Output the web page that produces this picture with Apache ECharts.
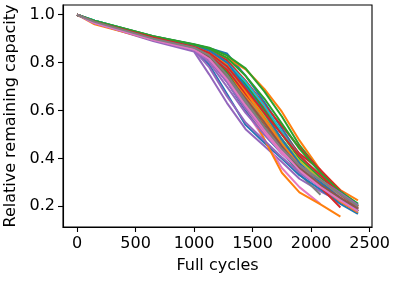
<!DOCTYPE html>
<html>
<head>
<meta charset="utf-8">
<script src="https://cdn.jsdelivr.net/npm/echarts@6/dist/echarts.min.js"></script>
<style>
html,body{margin:0;padding:0;background:#fff;}
#chart{width:397px;height:281px;}
</style>
</head>
<body>
<div id="chart"></div>
<script>
// Full-cycle sample points shared by every cell
const cycles = [0, 150, 650, 1000, 1130, 1280, 1440, 1600, 1750, 1900, 2080, 2250, 2400];
// Tick labels
const xTicks = [0, 500, 1000, 1500, 2000, 2500];
const yTicks = [0.2, 0.4, 0.6, 0.8, 1.0];
// Relative remaining capacity per cell (null = no more data)
const cell01 = [1, 0.975, 0.91, 0.876, 0.86, 0.838, 0.745, 0.635, 0.525, 0.415, 0.31, 0.24, 0.19];
const cell02 = [1, 0.97, 0.905, 0.87, 0.855, 0.82, 0.772, 0.69, 0.595, 0.475, 0.35, 0.268, 0.225];
const cell03 = [1, 0.975, 0.91, 0.877, 0.862, 0.83, 0.776, 0.68, 0.575, 0.455, 0.345, 0.26, 0.205];
const cell04 = [1, 0.97, 0.905, 0.868, 0.845, 0.8, 0.71, 0.61, 0.51, 0.42, 0.352, 0.265, 0.2];
const cell05 = [1, 0.965, 0.89, 0.846, 0.75, 0.632, 0.522, 0.452, 0.385, 0.315, 0.262, 0.22, 0.18];
const cell06 = [1, 0.97, 0.9, 0.86, 0.82, 0.73, 0.615, 0.515, 0.43, 0.35, 0.285, 0.23, 0.185];
const cell07 = [1, 0.965, 0.895, 0.855, 0.81, 0.72, 0.6, 0.48, 0.36, 0.28, 0.21, null, null];
const cell08 = [1, 0.97, 0.9, 0.862, 0.83, 0.76, 0.655, 0.545, 0.435, 0.335, 0.248, null, null];
const cell09 = [1, 0.97, 0.905, 0.865, 0.835, 0.77, 0.67, 0.57, 0.47, 0.37, 0.29, 0.23, 0.19];
const cell10 = [1, 0.975, 0.905, 0.87, 0.845, 0.79, 0.7, 0.59, 0.475, 0.37, 0.3, 0.24, 0.2];
const cell11 = [1, 0.97, 0.9, 0.856, 0.79, 0.67, 0.54, 0.465, 0.4, 0.33, 0.27, 0.21, 0.168];
const cell12 = [1, 0.96, 0.895, 0.86, 0.82, 0.74, 0.63, 0.48, 0.34, 0.258, 0.208, 0.157, null];
const cell13 = [1, 0.97, 0.905, 0.87, 0.85, 0.8, 0.71, 0.6, 0.5, 0.4, 0.32, 0.245, 0.2];
const cell14 = [1, 0.97, 0.905, 0.868, 0.85, 0.81, 0.725, 0.625, 0.535, 0.445, 0.35, 0.255, 0.18];
const cell15 = [1, 0.965, 0.895, 0.852, 0.78, 0.66, 0.55, 0.475, 0.405, 0.34, 0.28, 0.23, 0.19];
const cell16 = [1, 0.97, 0.9, 0.86, 0.83, 0.75, 0.64, 0.54, 0.45, 0.36, 0.28, 0.22, 0.18];
const cell17 = [1, 0.965, 0.9, 0.86, 0.82, 0.74, 0.63, 0.53, 0.44, 0.37, 0.3, 0.24, 0.19];
const cell18 = [1, 0.97, 0.905, 0.865, 0.84, 0.78, 0.68, 0.57, 0.46, 0.36, 0.28, 0.22, 0.18];
const cell19 = [1, 0.97, 0.9, 0.86, 0.83, 0.76, 0.65, 0.55, 0.46, 0.37, 0.3, 0.24, 0.19];
const cell20 = [1, 0.97, 0.905, 0.865, 0.84, 0.78, 0.67, 0.56, 0.45, 0.36, 0.29, 0.23, 0.19];
const cell21 = [1, 0.97, 0.9, 0.86, 0.82, 0.72, 0.6, 0.5, 0.42, 0.35, 0.29, 0.23, 0.172];
const cell22 = [1, 0.965, 0.9, 0.862, 0.83, 0.77, 0.66, 0.55, 0.45, 0.36, 0.29, 0.22, 0.175];
const cell23 = [1, 0.97, 0.905, 0.865, 0.83, 0.76, 0.64, 0.53, 0.43, 0.35, 0.29, 0.23, 0.19];
const cell24 = [1, 0.97, 0.9, 0.86, 0.83, 0.77, 0.67, 0.58, 0.48, 0.38, 0.28, 0.195, null];
const cell25 = [1, 0.965, 0.9, 0.855, 0.8, 0.7, 0.59, 0.5, 0.425, 0.36, 0.3, 0.25, 0.2];
const cell26 = [1, 0.97, 0.9, 0.86, 0.82, 0.73, 0.61, 0.51, 0.43, 0.36, 0.3, 0.24, 0.19];
const cell27 = [1, 0.965, 0.895, 0.855, 0.81, 0.72, 0.61, 0.51, 0.42, 0.36, 0.3, 0.24, 0.185];
const cell28 = [1, 0.97, 0.9, 0.86, 0.82, 0.74, 0.63, 0.53, 0.44, 0.36, 0.3, 0.25, 0.2];
const cell29 = [1, 0.97, 0.905, 0.865, 0.84, 0.79, 0.69, 0.58, 0.48, 0.39, 0.31, 0.25, 0.2];
const cell30 = [1, 0.975, 0.905, 0.87, 0.85, 0.8, 0.72, 0.62, 0.51, 0.41, 0.33, 0.26, 0.21];
const cell31 = [1, 0.97, 0.905, 0.87, 0.85, 0.8, 0.7, 0.59, 0.48, 0.38, 0.3, 0.235, 0.18];
const cell32 = [1, 0.97, 0.9, 0.865, 0.84, 0.79, 0.68, 0.565, 0.46, 0.37, 0.31, 0.25, 0.2];
const cell33 = [1, 0.975, 0.91, 0.875, 0.858, 0.82, 0.745, 0.65, 0.545, 0.44, 0.34, 0.26, 0.21];
const cell34 = [1, 0.97, 0.905, 0.865, 0.84, 0.785, 0.69, 0.59, 0.5, 0.41, 0.33, 0.25, 0.195];
const cell35 = [1, 0.965, 0.895, 0.855, 0.81, 0.72, 0.61, 0.52, 0.445, 0.37, 0.31, 0.255, 0.205];
const cell36 = [1, 0.97, 0.9, 0.86, 0.825, 0.75, 0.65, 0.55, 0.45, 0.36, 0.29, 0.235, 0.19];
const cell37 = [1, 0.965, 0.895, 0.855, 0.815, 0.73, 0.62, 0.52, 0.43, 0.35, 0.28, 0.225, 0.18];
const cell38 = [1, 0.97, 0.9, 0.862, 0.83, 0.75, 0.64, 0.53, 0.44, 0.37, 0.31, 0.25, 0.2];

const cells = [cell01, cell02, cell03, cell04, cell05, cell06, cell07, cell08, cell09, cell10,
  cell11, cell12, cell13, cell14, cell15, cell16, cell17, cell18, cell19, cell20,
  cell21, cell22, cell23, cell24, cell25, cell26, cell27, cell28, cell29, cell30,
  cell31, cell32, cell33, cell34, cell35, cell36, cell37, cell38];

const palette = ['#1f77b4', '#ff7f0e', '#2ca02c', '#d62728', '#9467bd',
  '#8c564b', '#e377c2', '#7f7f7f', '#bcbd22', '#17becf'];

const FONT = 'DejaVu Sans';
const FS = 16;

const series = cells.map(function (vals, i) {
  const data = [];
  vals.forEach(function (v, j) { if (v !== null) data.push([cycles[j], v]); });
  return {
    type: 'line',
    data: data,
    showSymbol: false,
    symbol: 'none',
    silent: true,
    lineStyle: { width: 2, color: palette[i % 10], join: 'round', cap: 'butt' },
    z: 2
  };
});

const chart = echarts.init(document.getElementById('chart'), null, { renderer: 'canvas' });
chart.setOption({
  animation: false,
  backgroundColor: '#ffffff',
  textStyle: { fontFamily: FONT },
  grid: {
    left: 63, right: 25, top: 5, bottom: 54,
    containLabel: false,
    outerBoundsMode: 'none',
    show: true, borderColor: '#000', borderWidth: 1.1, backgroundColor: 'transparent'
  },
  xAxis: {
    type: 'value',
    min: -120, max: 2520,
    name: 'Full cycles',
    nameLocation: 'middle',
    nameGap: 31,
    nameTextStyle: { fontFamily: FONT, fontSize: FS, color: '#000' },
    axisLine: { show: true, onZero: false, lineStyle: { color: '#000', width: 1.1 } },
    axisTick: { show: true, inside: false, length: 5, lineStyle: { color: '#000', width: 1.1 }, customValues: xTicks },
    axisLabel: { show: true, margin: 9, fontFamily: FONT, fontSize: FS, color: '#000', customValues: xTicks,
      formatter: function (v) { return String(v); } },
    splitLine: { show: false }
  },
  yAxis: {
    type: 'value',
    min: 0.1136, max: 1.0405,
    name: 'Relative remaining capacity',
    nameLocation: 'middle',
    nameGap: 44,
    nameTextStyle: { fontFamily: FONT, fontSize: FS, color: '#000' },
    axisLine: { show: true, onZero: false, lineStyle: { color: '#000', width: 1.1 } },
    axisTick: { show: true, inside: false, length: 5, lineStyle: { color: '#000', width: 1.1 }, customValues: yTicks },
    axisLabel: { show: true, margin: 8, fontFamily: FONT, fontSize: FS, color: '#000', customValues: yTicks,
      formatter: function (v) { return Number(v).toFixed(1); } },
    splitLine: { show: false }
  },
  series: series
});
</script>
</body>
</html>
